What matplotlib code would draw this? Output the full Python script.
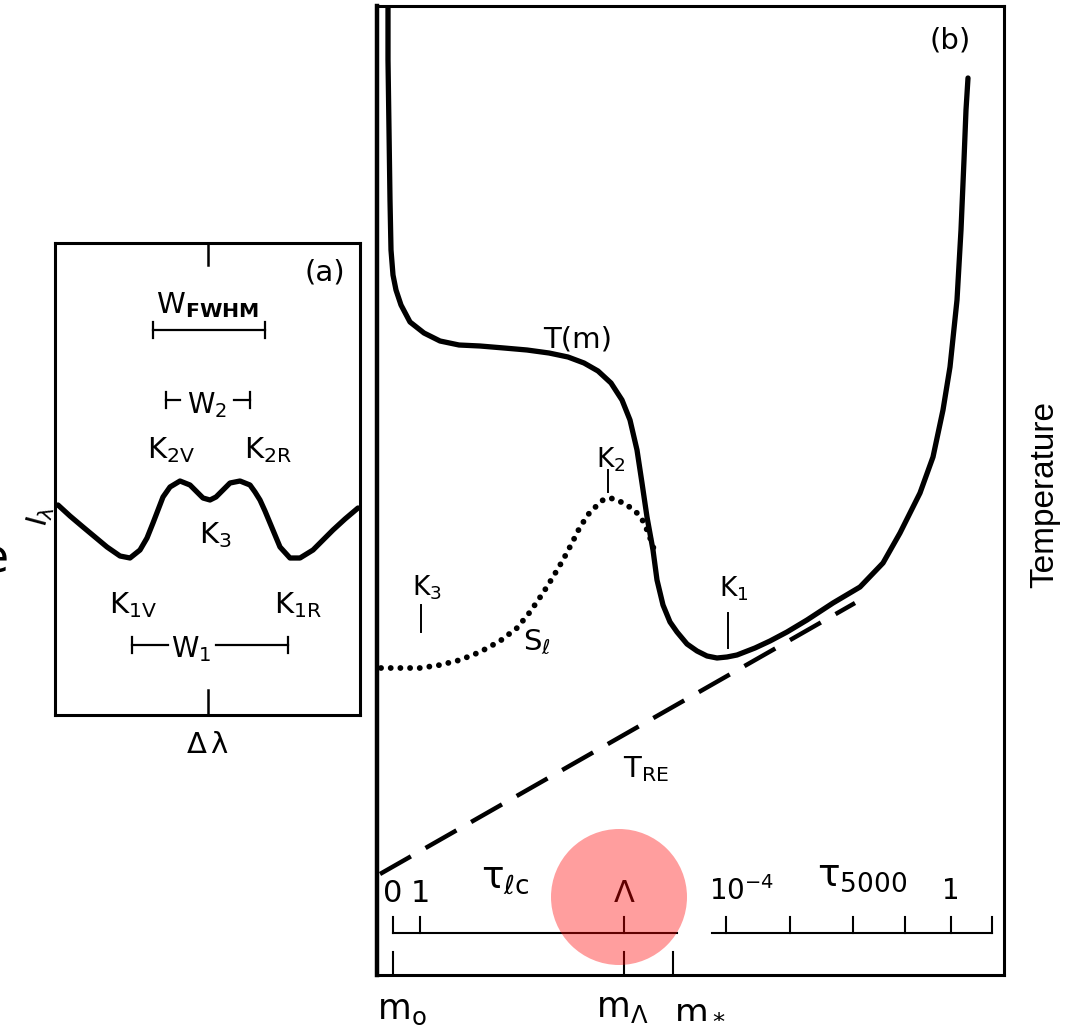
"""
Line-profile sketch (a) and temperature / source-function run (b), redrawn with matplotlib
"""

import matplotlib.pyplot as plt
from matplotlib.patches import Circle

plt.rcParams['font.family'] = ['DejaVu Sans']
plt.rcParams['mathtext.default'] = 'regular'

# ---- panel (a): profile I(dlambda), arbitrary units (x = offset from line centre)
prof_x = [-149.5, -137.5, -124.5, -112.5, -100.5, -87.5, -77.5, -67.5, -60.5, -54.5,
          -49.5, -44.5, -37.5, -27.5, -17.5, -10.5, -4.5, 2.5, 8.5, 12.5,
          22.5, 32.5, 42.5, 47.5, 52.5, 57.5, 62.5, 72.5, 82.5, 92.5,
          105.5, 115.5, 125.5, 137.5, 150.5]
prof_y = [210, 199, 188, 178, 168, 159, 157, 165, 177, 192,
          205, 218, 228, 234, 230, 223, 217, 215, 218, 222,
          232, 234, 230, 223, 215, 204, 192, 168, 157, 157,
          165, 175, 185, 196, 207]

# width bars: (left, right, height)
w_fwhm = (-54.5, 57.5, 385)
w_2 = (-41.5, 42.5, 315)
w_1 = (-75.5, 80.5, 70)

# ---- panel (b): arbitrary units (x ~ log column mass, y ~ temperature)
t_x = [11, 11, 12, 13, 14, 16, 19, 24, 33, 47, 63, 82, 103, 127, 150, 172, 191, 207,
       221, 234, 245, 253, 260, 265, 270, 276, 280, 286, 293, 300, 310, 320, 330, 340,
       350, 360, 378, 393, 410, 430, 456, 483, 506, 523, 543, 556, 566, 573, 580, 584,
       587, 589, 591]
t_y = [969, 915, 845, 775, 725, 700, 685, 670, 653, 642, 634, 630, 629, 627, 625, 622,
       618, 612, 604, 592, 575, 555, 525, 492, 458, 425, 395, 370, 353, 343, 331, 324,
       319, 317, 318, 320, 327, 334, 343, 355, 372, 388, 412, 442, 482, 518, 565, 608,
       675, 745, 815, 865, 897]

s_x = [4, 23, 43, 63, 83, 103, 123, 140, 153, 166, 176, 186, 195, 203, 213, 226, 233,
       240, 250, 260, 266, 270, 275, 278]
s_y = [307, 307, 307, 310, 315, 323, 334, 347, 363, 382, 398, 415, 432, 448, 463, 475,
       477, 475, 470, 462, 454, 445, 432, 422]

tre_x = [3, 478]
tre_y = [101, 372]

# marker ticks for K3, K2, K1 on the curves: (x, y_low, y_high)
k_marks = [(44, 343, 370), (231, 483, 505), (351, 327, 362)]

# optical depth scales
tau_lc_ticks = [16, 43, 247]
tau_lc_labels = ['0', '1', r'$\Lambda$']
tau_lc_span = (16, 300)
tau_c_ticks = [349, 413, 476, 528, 574, 615]
tau_c_labels = {349: r'10$^{-4}$', 574: '1'}
tau_c_span = (335, 615)
m_ticks = [16, 247, 296]
m_labels = [r'm$_o$', r'm$_\Lambda$', r'm$_*$']

fig = plt.figure(figsize=(10.7, 10.32), dpi=100)
W, H = 1070, 1032

# ------------------------------------------------------------------ panel (a)
ax_a = fig.add_axes([55 / W, (H - 715) / H, 305 / W, 472 / H])
ax_a.set_xlim(-152.5, 152.5)
ax_a.set_ylim(0, 472)
ax_a.set_xticks([])
ax_a.set_yticks([])
for sp in ax_a.spines.values():
    sp.set_linewidth(2.2)

ax_a.plot(prof_x, prof_y, color='black', lw=3.8, solid_capstyle='round',
          solid_joinstyle='round')
ax_a.plot([0, 0], [450, 472], color='black', lw=1.8)
ax_a.plot([0, 0], [0, 25], color='black', lw=1.8)

def width_bar(ax, left, right, y, gap=None):
    # horizontal bar with end caps, optionally broken around its label
    if gap is None:
        ax.plot([left, right], [y, y], color='black', lw=1.6)
    else:
        ax.plot([left, gap[0]], [y, y], color='black', lw=1.6)
        ax.plot([gap[1], right], [y, y], color='black', lw=1.6)
    for xe in (left, right):
        ax.plot([xe, xe], [y - 8, y + 8], color='black', lw=1.6)

width_bar(ax_a, *w_fwhm)
width_bar(ax_a, *w_2, gap=(-28, 26))
width_bar(ax_a, *w_1, gap=(-40, 8))

ax_a.text(117, 442, '(a)', fontsize=21, ha='center', va='center')
ax_a.text(0, 410, r'W$_{\mathbf{FWHM}}$', fontsize=21, ha='center', va='center')
ax_a.text(0, 310, r'W$_2$', fontsize=20, ha='center', va='center')
ax_a.text(-16, 66, r'W$_1$', fontsize=20, ha='center', va='center')
ax_a.text(-36, 265, r'K$_{2V}$', fontsize=21, ha='center', va='center')
ax_a.text(60, 265, r'K$_{2R}$', fontsize=21, ha='center', va='center')
ax_a.text(8, 180, r'K$_3$', fontsize=21, ha='center', va='center')
ax_a.text(-74, 110, r'K$_{1V}$', fontsize=21, ha='center', va='center')
ax_a.text(90, 110, r'K$_{1R}$', fontsize=21, ha='center', va='center')
ax_a.text(0, -30, r'$\Delta\,\lambda$', fontsize=21, ha='center', va='center',
          clip_on=False)
ax_a.text(-167, 200, r'I$_\lambda$', fontsize=21, ha='center', va='center',
          rotation=75, clip_on=False)
fig.text(-6 / W, 1 - 560 / H, 'e', fontsize=34, ha='center', va='center')

# ------------------------------------------------------------------ panel (b)
ax_b = fig.add_axes([377 / W, (H - 975) / H, 627 / W, 969 / H])
ax_b.set_xlim(0, 627)
ax_b.set_ylim(0, 969)
ax_b.set_xticks([])
ax_b.set_yticks([])
for sp in ax_b.spines.values():
    sp.set_linewidth(2.2)
ax_b.spines['left'].set_linewidth(3.2)

ax_b.plot(t_x, t_y, color='black', lw=3.8, solid_capstyle='round',
          solid_joinstyle='round', zorder=3)
ax_b.plot(s_x, s_y, color='black', lw=4.2, linestyle=(0, (0.01, 1.65)),
          dash_capstyle='round', zorder=3)
ax_b.plot(tre_x, tre_y, color='black', lw=3.2, linestyle=(0, (8, 3.8)), zorder=3)

for xk, y0, y1 in k_marks:
    ax_b.plot([xk, xk], [y0, y1], color='black', lw=1.4)

ax_b.text(573, 935, '(b)', fontsize=21, ha='center', va='center')
ax_b.text(201, 636, 'T(m)', fontsize=21, ha='center', va='center')
ax_b.text(50, 387, r'K$_3$', fontsize=19, ha='center', va='center')
ax_b.text(234, 515, r'K$_2$', fontsize=19, ha='center', va='center')
ax_b.text(357, 386, r'K$_1$', fontsize=19, ha='center', va='center')
ax_b.text(160, 333, r'S$_\ell$', fontsize=21, ha='center', va='center')
ax_b.text(269, 206, r'T$_{RE}$', fontsize=21, ha='center', va='center')
ax_b.text(668, 480, 'Temperature', fontsize=24, ha='center', va='center',
          rotation=90, family='Liberation Sans', clip_on=False)

# line-centre optical depth scale
ax_b.plot(tau_lc_span, [42, 42], color='black', lw=1.5)
for xt, lab in zip(tau_lc_ticks, tau_lc_labels):
    ax_b.plot([xt, xt], [42, 58], color='black', lw=1.5)
    ax_b.text(xt, 82, lab, fontsize=22, ha='center', va='center')
ax_b.text(128, 97, r'$\tau_{\ell c}$', fontsize=27, ha='center', va='center')

# continuum optical depth scale
ax_b.plot(tau_c_span, [42, 42], color='black', lw=1.5)
for xt in tau_c_ticks:
    ax_b.plot([xt, xt], [42, 58], color='black', lw=1.5)
    if xt in tau_c_labels:
        ax_b.text(xt + (16 if xt == 349 else 0), 84, tau_c_labels[xt], fontsize=20,
                  ha='center', va='center')
ax_b.text(485, 99, r'$\tau_{5000}$', fontsize=27, ha='center', va='center')

# column mass marks along the bottom edge
for xm in m_ticks:
    ax_b.plot([xm, xm], [0, 23], color='black', lw=1.5)
ax_b.text(25, -35, m_labels[0], fontsize=25, ha='center', va='center', clip_on=False)
ax_b.text(245, -33, m_labels[1], fontsize=25, ha='center', va='center', clip_on=False)
ax_b.text(323, -33, m_labels[2], fontsize=25, ha='center', va='center', clip_on=False)

# translucent highlight spot
ax_b.add_patch(Circle((242, 78), 68, facecolor='red', alpha=0.38, edgecolor='none',
                      zorder=5, clip_on=False))

fig.savefig('out.png', dpi=100)
